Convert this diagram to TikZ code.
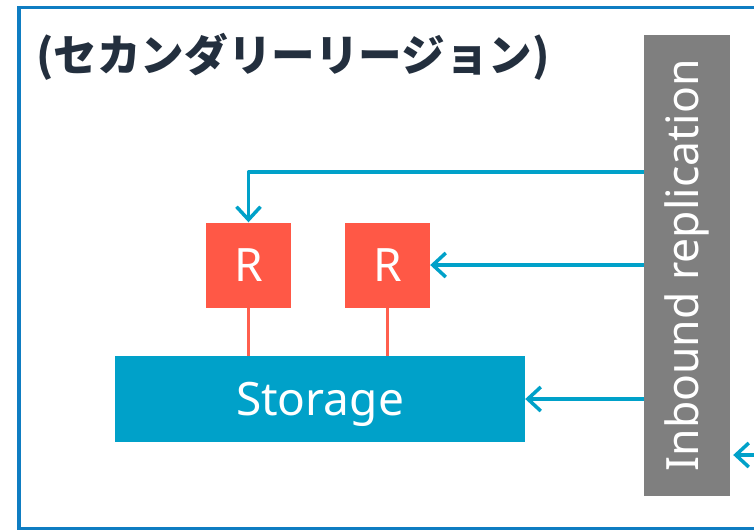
\documentclass[tikz,border=0pt]{standalone}
\usepackage{fontspec}
\setmainfont{Noto Sans}
\newfontfamily\cjk{Noto Sans CJK JP}
\usetikzlibrary{arrows.meta}

\definecolor{framecol}{HTML}{0F7DC2}
\definecolor{flowcol}{HTML}{00A1C9}
\definecolor{replica}{HTML}{FF5846}
\definecolor{linkcol}{HTML}{FF5F4E}
\definecolor{panel}{HTML}{7F7F7F}
\definecolor{ink}{HTML}{232F3E}

\tikzset{
  frame/.style={draw=framecol, line width=3.5pt},
  replicabox/.style={fill=replica, minimum width=85pt, minimum height=85pt,
    inner sep=0pt, text=white, font=\fontsize{46}{46}\selectfont},
  storagebox/.style={fill=flowcol, minimum width=410pt, minimum height=86pt,
    inner sep=0pt, text depth=0pt, text=white, font=\fontsize{46}{46}\selectfont},
  panelbox/.style={fill=panel, minimum width=86pt, minimum height=461pt, inner sep=0pt},
  flow/.style={draw=flowcol, line width=3.5pt, line join=round,
    -{Straight Barb[length=13pt, width=24pt]}},
  link/.style={draw=linkcol, line width=3.2pt},
}

\begin{document}
\begin{tikzpicture}[x=1pt, y=-1pt]
  \useasboundingbox (0,0) rectangle (754,530);
  \clip (0,0) rectangle (754,530);

  % region frame (continues past the right edge)
  \draw[frame] (19,7.7) rectangle (800,528.5);

  % heading
  \node[anchor=base west, inner sep=0pt, text=ink,
        font=\cjk\bfseries\fontsize{43.6}{43.6}\selectfont] (title) at (36,71)
        {(セカンダリーリージョン)};

  % replication panel
  \node[panelbox] (rep) at (687,265.5) {};
  \node[rotate=90, text=white, inner sep=0pt,
        font=\fontsize{44.5}{44.5}\selectfont] (replabel) at (687,265.5)
        {Inbound replication};

  % replicas and storage
  \node[replicabox] (r1) at (248.5,265) {R};
  \node[replicabox] (r2) at (387.5,265) {R};
  \node[storagebox] (st) at (320,399) {Storage};

  \draw[link] (r1.south) -- (r1.south |- st.north);
  \draw[link] (r2.south) -- (r2.south |- st.north);

  % replication flows
  \coordinate (upper) at (0,172);
  \draw[flow] (rep.west |- upper) -| (r1.north);
  \draw[flow] (rep.west |- r2.east) -- (r2.east);
  \draw[flow] (rep.west |- st.east) -- (st.east);

  \coordinate (incoming) at (760,455);
  \draw[flow, shorten >=3pt] (incoming) -- (rep.east |- incoming);
\end{tikzpicture}
\end{document}
